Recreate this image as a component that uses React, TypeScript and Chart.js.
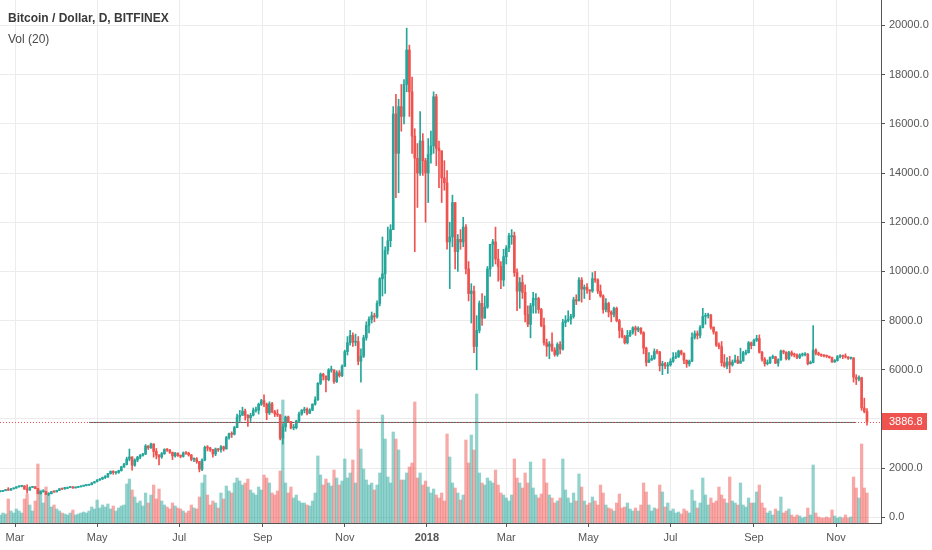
import { useEffect, useRef } from 'react';
import { Chart, registerables } from 'chart.js';
Chart.register(...registerables);

// ---- data (Bitfinex BTC/USD, 2-day candles) ----
const FIRST_DATE = '2017-02-18'; // close date of the first candle
const STEP_DAYS = 2;
const FIRST_OPEN = 1045;

const close = [
  1060, 1090, 1125, 1110, 1160, 1190,
  1240, 1265, 1280, 1150, 1110, 1220, 1245, 1170, 965, 1040, 1050, 935, 960, 1045, 1035,
  1095, 1160, 1155, 1215, 1215, 1245, 1200, 1220, 1240, 1270, 1300, 1310, 1330, 1400, 1450,
  1520, 1560, 1620, 1640, 1780, 1870, 1820, 1830, 1900, 2050, 2150, 2370, 2460, 2120, 2330, 2450,
  2520, 2580, 2900, 2830, 2980, 2680, 2530, 2460, 2590, 2760, 2740, 2650, 2500, 2610, 2510,
  2480, 2620, 2610, 2540, 2360, 2380, 2270, 1960, 2330, 2850, 2820, 2760, 2580, 2780, 2750,
  2870, 2780, 3250, 3400, 3380, 3650, 4080, 4150, 4320, 4150, 4050, 4150, 4350, 4360, 4600, 4750,
  4600, 4250, 4620, 4300, 4200, 4170, 3220, 3680, 4080, 3900, 3640, 3650, 3920, 4200, 4360,
  4400, 4230, 4360, 4600, 4780, 5450, 5820, 5740, 5600, 5990, 6000, 5520, 5880, 5760, 6140,
  6740, 7100, 7400, 7120, 7150, 6350, 6550, 7300, 7800, 8050, 8200, 8150, 8700, 9700, 9900,
  10850, 11250, 11700, 16400, 14800, 16700, 16300, 17600, 19000, 17300, 15500, 14600, 14000, 15300, 14500, 14000,
  14750, 15100, 17100, 15000, 14900, 13800, 13600, 11200, 11400, 12800, 10800, 11300, 11200, 11800, 10100,
  9100, 9200, 6950, 7600, 8700, 8100, 8550, 10100, 11100, 11200, 10500, 10200, 9650, 10600,
  10950, 11450, 11450, 9950, 9200, 9550, 9150, 8250, 7850, 8600, 8900, 8900, 8450, 7800, 7100, 6950,
  7050, 6800, 6620, 7030, 6840, 7920, 8000, 8060, 8170, 8850, 8800, 9650, 9280, 9350, 9250,
  9200, 9700, 9650, 9200, 9000, 8450, 8700, 8350, 8250, 8500, 8000, 7600, 7350, 7100, 7400,
  7520, 7710, 7620, 7690, 7510, 6880, 6300, 6400, 6460, 6740, 6720, 6170, 6250, 6150, 6200,
  6350, 6510, 6530, 6760, 6660, 6390, 6240, 6350, 7320, 7470, 7400, 7720, 8170, 8200, 8210, 7730,
  7540, 7010, 6940, 6290, 6150, 6320, 6200, 6310, 6400, 6270, 6360, 6700, 6700, 7100, 6980,
  7200, 7270, 6710, 6430, 6250, 6290, 6500, 6530, 6270, 6410, 6760, 6720, 6450, 6700, 6610,
  6600, 6500, 6600, 6610, 6640, 6250, 6300, 6800, 6680, 6620, 6580, 6560, 6550, 6500, 6320, 6380,
  6530, 6560, 6550, 6520, 6470, 6480, 5700, 5620, 5680, 4450, 4300, 3886.8,
];

const high = [
  1075, 1100, 1135, 1210, 1180, 1200,
  1255, 1285, 1295, 1290, 1320, 1240, 1260, 1255, 1180, 1070, 1125, 1060, 1010, 1060, 1080,
  1105, 1175, 1180, 1225, 1235, 1255, 1250, 1230, 1250, 1280, 1310, 1325, 1345, 1415, 1465,
  1535, 1580, 1640, 1700, 1790, 1890, 1900, 1850, 1920, 2080, 2200, 2450, 2780, 2450, 2380, 2480,
  2560, 2600, 2960, 2920, 3020, 3000, 2800, 2550, 2640, 2790, 2800, 2760, 2650, 2640, 2620,
  2540, 2660, 2680, 2650, 2560, 2420, 2430, 2280, 2380, 2900, 2920, 2850, 2770, 2820, 2800,
  2920, 2900, 3290, 3430, 3480, 3700, 4200, 4350, 4480, 4400, 4180, 4230, 4450, 4480, 4650, 4800,
  4980, 4650, 4700, 4680, 4350, 4380, 4180, 3800, 4120, 4120, 3900, 3780, 3950, 4280, 4380,
  4480, 4450, 4420, 4620, 4900, 5480, 5870, 5860, 5750, 6050, 6150, 6000, 5960, 5970, 6200,
  6800, 7350, 7600, 7500, 7450, 7350, 6850, 7400, 7950, 8150, 8350, 8300, 8800, 9750, 11400,
  11000, 11800, 11900, 16700, 17200, 17000, 17600, 17800, 19890, 19200, 17900, 15800, 15200, 16500, 15600, 14600,
  15400, 15700, 17300, 17200, 15300, 14900, 14500, 14100, 12000, 13100, 12800, 11500, 11700, 12200, 11900,
  10400, 9500, 9400, 8200, 8800, 9100, 9000, 10200, 11100, 11300, 11800, 10900, 10400, 10900,
  11050, 11550, 11700, 11600, 10100, 9750, 9850, 9450, 8600, 8700, 9150, 9100, 8950, 8500, 8100, 7250,
  7150, 7500, 6900, 7100, 7150, 8050, 8200, 8400, 8250, 8950, 9050, 9750, 9750, 9450, 9500,
  9250, 9950, 10000, 9700, 9450, 9050, 8900, 8750, 8400, 8550, 8550, 8050, 7700, 7400, 7600,
  7600, 7750, 7780, 7750, 7720, 7550, 6920, 6700, 6580, 6850, 6820, 6750, 6350, 6300, 6300,
  6450, 6700, 6700, 6800, 6800, 6690, 6400, 6400, 7500, 7580, 7580, 7800, 8500, 8300, 8300, 8250,
  7750, 7500, 7100, 7150, 6620, 6500, 6550, 6400, 6600, 6550, 6880, 6750, 6800, 7150, 7130,
  7250, 7400, 7420, 6750, 6500, 6400, 6530, 6600, 6550, 6450, 6800, 6800, 6730, 6750, 6770,
  6680, 6650, 6650, 6680, 6700, 6660, 6360, 7800, 6850, 6720, 6650, 6620, 6600, 6560, 6520, 6420,
  6580, 6620, 6600, 6650, 6540, 6520, 6500, 5800, 5750, 5700, 4850, 4420,
];

const low = [
  1040, 1050, 1080, 1090, 1100, 1150,
  1185, 1225, 1240, 1140, 985, 1100, 1215, 1165, 950, 945, 1030, 930, 890, 955, 1020,
  1040, 1090, 1125, 1150, 1185, 1205, 1180, 1190, 1210, 1235, 1260, 1280, 1295, 1320, 1390,
  1440, 1500, 1540, 1580, 1630, 1760, 1750, 1760, 1790, 1880, 2030, 2130, 2300, 1920, 2080, 2260,
  2380, 2490, 2550, 2760, 2800, 2450, 2380, 2130, 2400, 2560, 2680, 2600, 2350, 2450, 2480,
  2420, 2450, 2560, 2490, 2300, 2270, 2200, 1850, 1900, 2300, 2700, 2680, 2450, 2510, 2680,
  2650, 2700, 2780, 3180, 3250, 3350, 3650, 3900, 4150, 3950, 3700, 3900, 4120, 4280, 4200, 4550,
  4500, 3970, 4180, 4250, 4100, 4100, 3150, 2980, 3500, 3850, 3600, 3560, 3600, 3850, 4150,
  4250, 4170, 4280, 4340, 4560, 4760, 5400, 5580, 5100, 5550, 5900, 5450, 5480, 5700, 5720,
  6150, 6600, 7000, 6950, 6980, 6200, 5500, 6500, 7200, 7500, 7900, 7950, 8100, 8600, 9000,
  9100, 10700, 11000, 11700, 13000, 13200, 15700, 16000, 17300, 16300, 14800, 10800, 12600, 13900, 13900, 12000,
  12800, 14400, 14800, 14300, 13400, 12800, 13300, 10900, 9300, 11000, 10100, 10000, 10900, 11000, 9900,
  8800, 7900, 6700, 6000, 7500, 7800, 8200, 8500, 9800, 10200, 10300, 9600, 9300, 9400,
  10300, 10800, 11100, 9800, 8400, 8500, 8900, 7950, 7750, 7300, 8300, 8300, 8300, 7750, 7000, 6550,
  6450, 6750, 6550, 6550, 6650, 6800, 7750, 7950, 7850, 8100, 8650, 8800, 8750, 8900, 9100,
  8850, 9150, 9550, 9100, 8950, 8300, 8350, 8150, 7950, 8150, 7950, 7300, 7300, 7050, 7050,
  7350, 7450, 7400, 7550, 7450, 6650, 6150, 6300, 6380, 6420, 6650, 5950, 5800, 6050, 5850,
  6150, 6300, 6450, 6500, 6600, 6250, 6100, 6150, 6330, 7250, 7250, 7300, 7700, 7850, 8100, 7650,
  7450, 6950, 6850, 6150, 6100, 6050, 5880, 6150, 6300, 6250, 6300, 6350, 6600, 6680, 6850,
  6980, 7150, 6680, 6350, 6150, 6200, 6250, 6450, 6250, 6150, 6380, 6650, 6400, 6400, 6550,
  6520, 6450, 6450, 6550, 6560, 6200, 6240, 6280, 6600, 6580, 6540, 6520, 6500, 6470, 6300, 6300,
  6350, 6480, 6450, 6480, 6420, 6430, 5500, 5400, 5550, 4350, 4250, 3750,
];

// volume (thousand BTC, relative)
const volume = [
  8, 10, 9, 24, 12, 10,
  14, 12, 10, 24, 29, 18, 12, 22, 59, 33, 20, 36, 28, 16, 18,
  14, 12, 10, 9, 8, 10, 13, 8, 9, 10, 11, 10, 12, 16, 14,
  23, 15, 18, 16, 19, 14, 17, 12, 15, 17, 18, 39, 44, 33, 26, 20,
  22, 17, 30, 20, 28, 38, 24, 34, 22, 18, 16, 14, 20, 17, 15,
  14, 12, 10, 12, 18, 15, 14, 26, 40, 48, 28, 18, 22, 20, 15,
  30, 24, 37, 32, 30, 40, 45, 42, 38, 40, 44, 33, 30, 28, 36, 33,
  48, 45, 40, 30, 28, 32, 52, 123, 40, 30, 36, 25, 28, 22, 20,
  20, 18, 17, 22, 30, 67, 48, 38, 44, 40, 37, 53, 45, 38, 42,
  64, 45, 50, 63, 40, 113, 74, 54, 43, 38, 40, 33, 38, 50, 108,
  84, 46, 40, 91, 84, 73, 43, 43, 50, 56, 60, 121, 45, 50, 38, 42,
  36, 30, 34, 28, 25, 30, 22, 89, 66, 40, 35, 30, 23, 28, 83,
  60, 88, 73, 129, 50, 40, 38, 45, 42, 40, 53, 38, 30, 28,
  25, 22, 28, 64, 45, 40, 35, 50, 40, 61, 35, 28, 25, 29, 64, 40,
  28, 25, 20, 22, 25, 64, 33, 25, 20, 30, 22, 49, 36, 22, 18,
  20, 26, 22, 18, 38, 30, 18, 15, 14, 12, 20, 29, 15, 16, 20,
  14, 12, 15, 12, 18, 40, 31, 18, 12, 15, 14, 38, 31, 16, 20,
  12, 14, 10, 11, 9, 14, 12, 10, 33, 22, 15, 20, 45, 28, 18, 25,
  20, 22, 36, 28, 24, 20, 46, 22, 20, 18, 40, 18, 16, 25, 20,
  20, 31, 38, 20, 15, 10, 12, 8, 14, 12, 26, 10, 12, 14, 8,
  6, 8, 7, 5, 6, 15, 8, 58, 10, 6, 5, 5, 6, 5, 13, 7,
  5, 6, 5, 8, 5, 6, 46, 35, 25, 79, 35, 30,
];

const monthTickDates = [
  '2017-03-01', '2017-05-01', '2017-07-01', '2017-09-01', '2017-11-01', '2018-01-01',
  '2018-03-01', '2018-05-01', '2018-07-01', '2018-09-01', '2018-11-01',
];
const monthTickLabels = ['Mar', 'May', 'Jul', 'Sep', 'Nov', '2018', 'Mar', 'May', 'Jul', 'Sep', 'Nov'];
const priceTicks = [0, 2000, 4000, 6000, 8000, 10000, 12000, 14000, 16000, 18000, 20000];

const levelLine = { from: '2017-04-25', to: '2018-11-16', price: 3860 };
const TITLE = 'Bitcoin / Dollar, D, BITFINEX';
const SUBTITLE = 'Vol (20)';

// ---- helpers ----
const DAY = 86400000;
const ORIGIN = Date.parse('2017-03-01');
const dayOf = (s: string) => (Date.parse(s) - ORIGIN) / DAY;
const X_MIN = dayOf('2017-02-18') - 0.15;
const X_MAX = dayOf('2018-12-04') + 0.4;

const UP = '#26a69a';
const DOWN = '#ef5350';
const UP_VOL = 'rgba(38,166,154,0.5)';
const DOWN_VOL = 'rgba(239,83,80,0.5)';
const FONT = '"Liberation Sans", Arial, sans-serif';

const noPadding = (s: any) => {
  s.paddingTop = 0;
  s.paddingBottom = 0;
  s.paddingLeft = 0;
  s.paddingRight = 0;
};

export default function App() {
  const ref = useRef<HTMLCanvasElement | null>(null);

  useEffect(() => {
    document.body.style.margin = '0';
    const canvas = ref.current;
    if (!canvas) return;

    const first = dayOf(FIRST_DATE);
    const xs = close.map((_, i) => first + i * STEP_DAYS);
    const open = close.map((_, i) => (i === 0 ? FIRST_OPEN : close[i - 1]));
    const isUp = close.map((c, i) => c >= open[i]);
    const candleColor = isUp.map((u) => (u ? UP : DOWN));
    const volColor = isUp.map((u) => (u ? UP_VOL : DOWN_VOL));
    const tickDays = monthTickDates.map(dayOf);
    const year2018 = dayOf('2018-01-01');
    const lastPrice = close[close.length - 1];

    const overlay = {
      id: 'overlay',
      afterDatasetsDraw(chart: any) {
        const { ctx, chartArea, scales } = chart;
        const y = Math.round(scales.y.getPixelForValue(lastPrice)) + 0.5;
        ctx.save();
        ctx.strokeStyle = DOWN;
        ctx.lineWidth = 1;
        ctx.setLineDash([1, 2]);
        ctx.beginPath();
        ctx.moveTo(chartArea.left, y);
        ctx.lineTo(chartArea.right, y);
        ctx.stroke();
        ctx.restore();
      },
      afterDraw(chart: any) {
        const { ctx, chartArea, scales } = chart;
        const y = scales.y.getPixelForValue(lastPrice);
        ctx.save();
        ctx.fillStyle = DOWN;
        ctx.fillRect(chartArea.right + 1, Math.round(y - 8.5), 45, 17);
        ctx.fillStyle = '#ffffff';
        ctx.font = `11px ${FONT}`;
        ctx.textBaseline = 'middle';
        ctx.textAlign = 'left';
        ctx.fillText(lastPrice.toFixed(1), chartArea.right + 8, y + 0.5);
        ctx.fillStyle = '#3a3a3a';
        ctx.textBaseline = 'alphabetic';
        ctx.font = `bold 12px ${FONT}`;
        ctx.fillText(TITLE, 8, 21.5);
        ctx.fillStyle = '#4a4a4a';
        ctx.font = `12px ${FONT}`;
        ctx.fillText(SUBTITLE, 8, 42.5);
        ctx.restore();
      },
    };

    const chart = new Chart(canvas, {
      type: 'bar',
      data: {
        datasets: [
          {
            type: 'bar',
            label: 'Volume',
            data: volume.map((v, i) => ({ x: xs[i], y: v })),
            yAxisID: 'yv',
            backgroundColor: volColor,
            borderWidth: 0,
            barThickness: 2.6,
            grouped: false,
            order: 4,
          } as any,
          {
            type: 'line',
            label: 'Level',
            data: [
              { x: dayOf(levelLine.from), y: levelLine.price },
              { x: dayOf(levelLine.to), y: levelLine.price },
            ],
            yAxisID: 'y',
            borderColor: '#3f6460',
            borderWidth: 1,
            pointRadius: 0,
            order: 3,
          } as any,
          {
            type: 'bar',
            label: 'Wicks',
            data: xs.map((x, i) => ({
              x,
              y: [Math.min(low[i], open[i], close[i]), Math.max(high[i], open[i], close[i])],
            })),
            yAxisID: 'y',
            backgroundColor: candleColor,
            borderWidth: 0,
            barThickness: 1,
            grouped: false,
            order: 2,
          } as any,
          {
            type: 'bar',
            label: 'Bodies',
            data: xs.map((x, i) => ({ x, y: [open[i], close[i]] })),
            yAxisID: 'y',
            backgroundColor: candleColor,
            borderWidth: 0,
            barThickness: 2,
            minBarLength: 1,
            grouped: false,
            order: 1,
          } as any,
        ],
      },
      options: {
        responsive: false,
        animation: false,
        events: [],
        layout: { padding: 0 },
        plugins: { legend: { display: false }, tooltip: { enabled: false } },
        scales: {
          x: {
            type: 'linear',
            min: X_MIN,
            max: X_MAX,
            offset: false,
            afterBuildTicks: (s: any) => {
              s.ticks = tickDays.map((v) => ({ value: v }));
            },
            afterFit: (s: any) => {
              s.height = 27;
              noPadding(s);
            },
            ticks: {
              autoSkip: false,
              maxRotation: 0,
              padding: 4,
              color: '#555555',
              font: (c: any) => ({
                family: FONT,
                size: 11,
                weight: c.tick && c.tick.value === year2018 ? 'bold' : 'normal',
              }),
              callback: (_v: any, idx: number) => monthTickLabels[idx],
            },
            grid: { color: '#ececec', tickColor: '#555555', tickLength: 4, offset: false },
            border: { display: true, color: '#555555' },
          },
          y: {
            type: 'linear',
            position: 'right',
            min: -228,
            max: 21033,
            afterBuildTicks: (s: any) => {
              s.ticks = priceTicks.map((v) => ({ value: v }));
            },
            afterFit: (s: any) => {
              s.width = 51;
              noPadding(s);
            },
            ticks: {
              padding: 4,
              color: '#555555',
              font: { family: FONT, size: 11 },
              callback: (v: any) => Number(v).toFixed(1),
            },
            grid: { color: '#ececec', tickColor: '#555555', tickLength: 4 },
            border: { display: true, color: '#555555' },
          },
          yv: {
            type: 'linear',
            display: false,
            min: 0,
            max: 523,
          },
        },
      } as any,
      plugins: [overlay],
    });

    return () => chart.destroy();
  }, []);

  return (
    <div style={{ width: 932, height: 550 }}>
      <canvas ref={ref} width={932} height={550} style={{ display: 'block' }} />
    </div>
  );
}
